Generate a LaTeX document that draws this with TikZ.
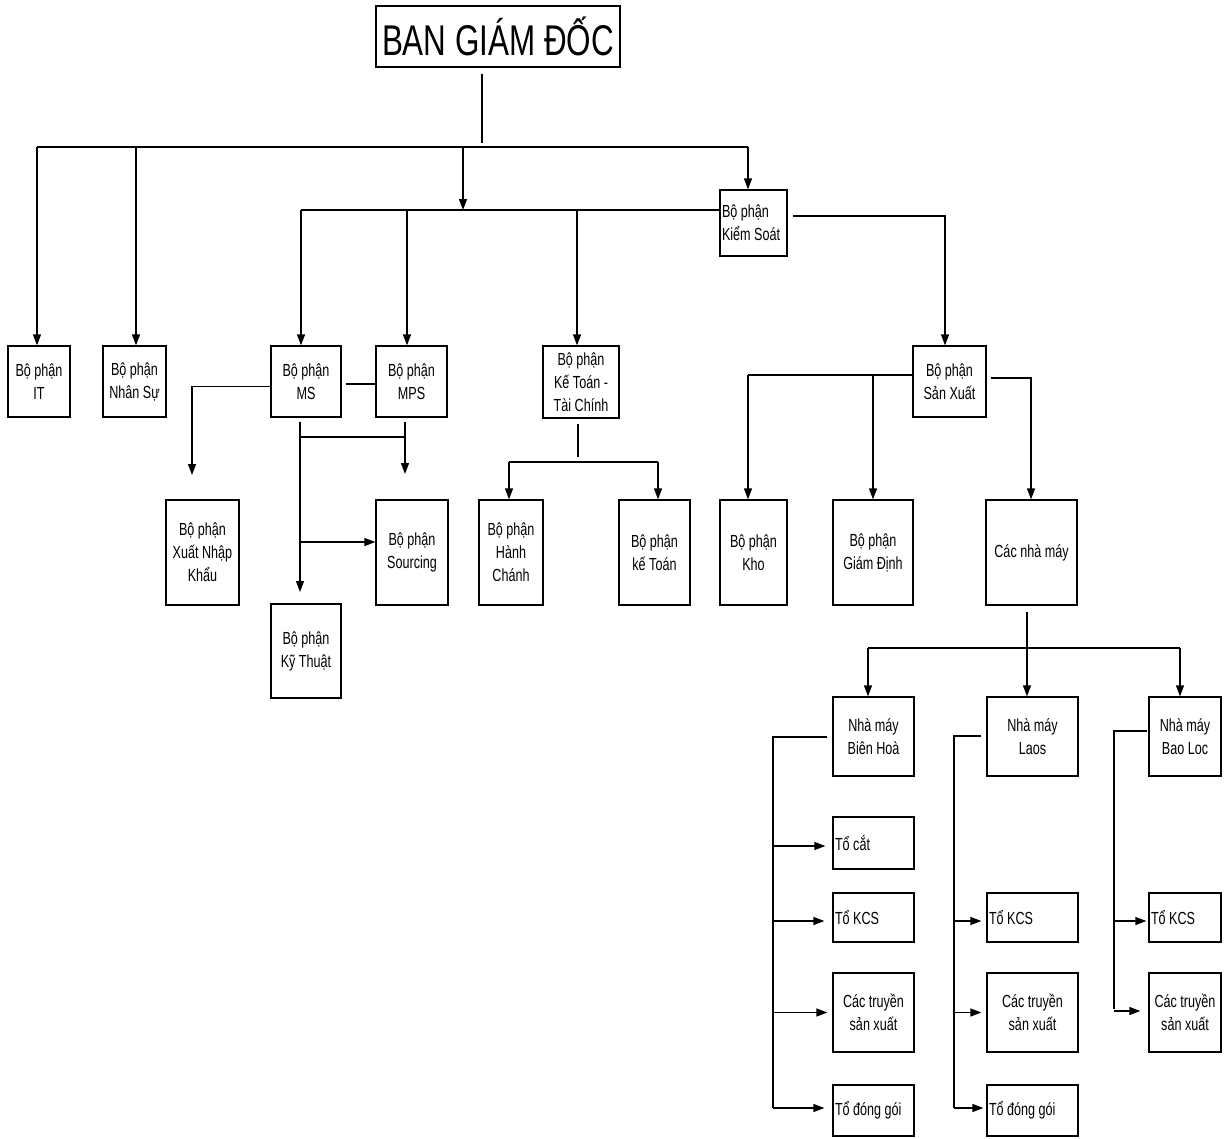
\documentclass[tikz,border=0pt]{standalone}
\usepackage{fontspec}
\newfontfamily\boxfont{Liberation Sans}[FakeStretch=0.72]
\newfontfamily\headfont{Liberation Sans}[FakeStretch=0.73]
\usetikzlibrary{arrows.meta}
\tikzset{
  ubox/.style={draw, line width=1.3pt, inner sep=0pt, align=center,
    font=\boxfont\fontsize{17.5}{23}\selectfont},
  bx/.style 2 args={ubox, minimum width=#1pt, minimum height=#2pt},
  lbx/.style 2 args={ubox, align=flush left, text width=#1pt, inner xsep=2pt, minimum height=#2pt},
  arr/.style={-{Triangle[length=11pt,width=8pt]}},
}
\begin{document}
\begin{tikzpicture}[x=1pt, y=-1pt, line width=1.3pt]
\useasboundingbox (0,0) rectangle (1225,1138);

% ---- boxes ----
\node[bx={244}{61}, font=\headfont\fontsize{43}{43}\selectfont] (bgd) at (498,36.5) {BAN GIÁM ĐỐC};
\node[bx={62}{71}] (it) at (39,381.5) {Bộ phận\\IT};
\node[bx={63}{71}] (nhansu) at (134.5,381.5) {Bộ phận\\Nhân Sự};
\node[bx={70}{71}] (ms) at (306,381.5) {Bộ phận\\MS};
\node[bx={71}{71}] (mps) at (411.5,381.5) {Bộ phận\\MPS};
\node[bx={76}{72}] (ktc) at (581,382) {Bộ phận\\Kế Toán -\\Tài Chính};
\node[lbx={63}{66}] (ks) at (753.5,223) {Bộ phận\\Kiểm Soát};
\node[bx={73}{71}] (sx) at (949.5,381.5) {Bộ phận\\Sản Xuất};
\node[bx={73}{105}] (xnk) at (202.5,552.5) {Bộ phận\\Xuất Nhập\\Khẩu};
\node[bx={72}{105}] (src) at (412,552.5) {Bộ phận\\Sourcing};
\node[bx={70}{94}] (kt) at (306,651) {Bộ phận\\Kỹ Thuật};
\node[bx={64}{105}] (hc) at (511,552.5) {Bộ phận\\Hành\\Chánh};
\node[bx={71}{105}] (kto) at (654.5,552.5) {Bộ phận\\kế Toán};
\node[bx={67}{105}] (kho) at (753.5,552.5) {Bộ phận\\Kho};
\node[bx={80}{105}] (gd) at (873,552.5) {Bộ phận\\Giám Định};
\node[bx={91}{105}] (cnm) at (1031.5,552.5) {Các nhà máy};

\node[bx={81}{79}] (bh) at (873.5,736.5) {Nhà máy\\Biên Hoà};
\node[bx={91}{79}] (laos) at (1032.5,736.5) {Nhà máy\\Laos};
\node[bx={72}{79}] (bl) at (1185,736.5) {Nhà máy\\Bao Loc};

\node[lbx={77}{52}] (bhcat) at (873.5,843) {Tổ cắt};
\node[lbx={77}{49}] (bhkcs) at (873.5,917.5) {Tổ KCS};
\node[bx={81}{79}] (bhtr) at (873.5,1012.5) {Các truyền\\sản xuất};
\node[lbx={77}{51}] (bhdg) at (873.5,1110.5) {Tổ đóng gói};

\node[lbx={87}{49}] (lkcs) at (1032.5,917.5) {Tổ KCS};
\node[bx={91}{79}] (ltr) at (1032.5,1012.5) {Các truyền\\sản xuất};
\node[lbx={87}{51}] (ldg) at (1032.5,1110.5) {Tổ đóng gói};

\node[lbx={68}{49}] (blkcs) at (1185,917.5) {Tổ KCS};
\node[bx={72}{79}] (bltr) at (1185,1012.5) {Các truyền\\sản xuất};

% ---- junction points ----
\coordinate (bgdfoot) at (482,143);
\coordinate (b1l) at (37,147);
\coordinate (b1r) at (748,147);
\coordinate (b2m) at (463,210);
\coordinate (b2l) at (301,210);
\coordinate (ksr) at (945,216);
\coordinate (xnkarr) at (192,475);
\coordinate (ktarr) at (300,592);
\coordinate (srcarr) at (405,474);
\coordinate (msbar) at (300,437);
\coordinate (srcbar) at (300,542);
\coordinate (ktcbar) at (578,462);
\coordinate (hcdrop) at (509,462);
\coordinate (ktodrop) at (658,462);
\coordinate (sxl) at (748,375);
\coordinate (sxr) at (1031,378);
\coordinate (cnmbar) at (1027,648);
\coordinate (fl) at (868,648);
\coordinate (fr) at (1180,648);
\coordinate (bhv) at (773,737);
\coordinate (bhend) at (773,1108);
\coordinate (lv) at (954,736);
\coordinate (lend) at (954,1108);
\coordinate (blv) at (1114,731);
\coordinate (blend) at (1114,1009);

% ---- top level ----
\draw ([yshift=-6pt]bgd.south -| bgdfoot) -- (bgdfoot);
\draw (b1l) -- (b1r);
\draw[arr] (b1l) -- (b1l |- it.north);
\draw[arr] ([xshift=1.5pt]nhansu.north |- b1l) -- ([xshift=1.5pt]nhansu.north);
\draw[arr] (b2m |- b1l) -- (b2m);
\draw[arr] (b1r) -- (b1r |- ks.north);

% ---- second bus ----
\draw (b2l) -- (b2l -| ks.west);
\draw[arr] (b2l) -- (b2l |- ms.north);
\draw[arr] ([xshift=-4.5pt]mps.north |- b2l) -- ([xshift=-4.5pt]mps.north);
\draw[arr] ([xshift=-4pt]ktc.north |- b2l) -- ([xshift=-4pt]ktc.north);
\draw[arr] ([xshift=5pt]ks.east |- ksr) -- (ksr) -- (ksr |- sx.north);

% ---- MS / MPS group ----
\draw ([xshift=4pt,yshift=-2.5pt]ms.east) -- ([yshift=-2.5pt]mps.west);
\draw[arr] ([yshift=-5pt]ms.west) -| (xnkarr);
\draw[arr] ([yshift=-4pt]ktarr |- ms.south) -- (ktarr);
\draw[arr] ([yshift=-4pt]srcarr |- mps.south) -- (srcarr);
\draw (msbar) -- (msbar -| srcarr);
\draw[arr] (srcbar) -- (srcbar -| src.west);

% ---- accounting ----
\draw ([yshift=-5pt]ktcbar |- ktc.south) -- ([yshift=5pt]ktcbar);
\draw (hcdrop) -- (ktodrop);
\draw[arr] (hcdrop) -- (hcdrop |- hc.north);
\draw[arr] (ktodrop) -- (ktodrop |- kto.north);

% ---- production ----
\draw (sx.west |- sxl) -- (sxl);
\draw[arr] (sxl) -- (sxl |- kho.north);
\draw[arr] (gd.north |- sxl) -- (gd.north);
\draw[arr] ([xshift=4pt]sx.east |- sxr) -- (sxr) -- (sxr |- cnm.north);

% ---- factories ----
\draw ([yshift=-6pt]cnm.south -| cnmbar) -- (cnmbar);
\draw (fl) -- (fr);
\draw[arr] (fl) -- (fl |- bh.north);
\draw[arr] (cnmbar) -- (cnmbar |- laos.north);
\draw[arr] (fr) -- (fr |- bl.north);

% ---- Biên Hoà teams ----
\draw ([xshift=-5pt]bh.west |- bhv) -- (bhv) -- (bhend);
\draw[arr, shorten >=7pt] ([yshift=-3pt]bhv |- bhcat.west) -- ([yshift=-3pt]bhcat.west);
\draw[arr, shorten >=8pt] ([yshift=-3.5pt]bhv |- bhkcs.west) -- ([yshift=-3.5pt]bhkcs.west);
\draw[arr, shorten >=5pt] (bhv |- bhtr.west) -- (bhtr.west);
\draw[arr, shorten >=8pt] ([yshift=2.5pt]bhv |- bhdg.west) -- ([yshift=2.5pt]bhdg.west);

% ---- Laos teams ----
\draw ([xshift=-5pt]laos.west |- lv) -- (lv) -- (lend);
\draw[arr, shorten >=5pt] ([yshift=-3.5pt]lv |- lkcs.west) -- ([yshift=-3.5pt]lkcs.west);
\draw[arr, shorten >=5pt] (lv |- ltr.west) -- (ltr.west);
\draw[arr, shorten >=3pt] ([yshift=2.5pt]lv |- ldg.west) -- ([yshift=2.5pt]ldg.west);

% ---- Bao Loc teams ----
\draw ([xshift=-1pt]bl.west |- blv) -- (blv) -- (blend);
\draw[arr, shorten >=2pt] ([yshift=-3.5pt]blv |- blkcs.west) -- ([yshift=-3.5pt]blkcs.west);
\draw[arr, shorten >=8pt] ([yshift=1.5pt]blv |- bltr.west) -- ([yshift=1.5pt]bltr.west);
\end{tikzpicture}
\end{document}
